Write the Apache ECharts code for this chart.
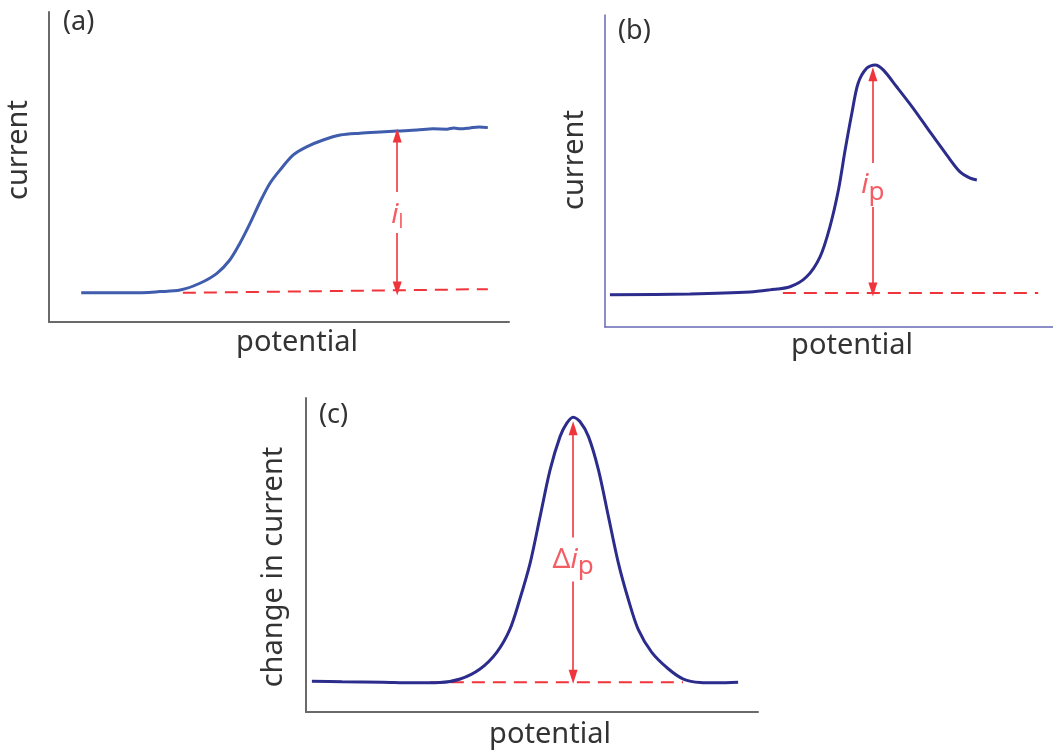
<!DOCTYPE html>
<html>
<head>
<meta charset="utf-8">
<script src="https://cdn.jsdelivr.net/npm/echarts@6/dist/echarts.min.js"></script>
<style>
  html, body { margin: 0; padding: 0; background: #fff; }
  #chart { width: 1053px; height: 750px; }
</style>
</head>
<body>
<div id="chart"></div>
<script>
// ---- data (potential / current, arbitrary units 0-100) ----

// (a) sampled-current voltammogram: sigmoid wave
const curveA = [
  [7.0, 9.4], [18.3, 9.4], [24.1, 9.8], [28.5, 10.3], [32.8, 12.5], [36.5, 15.7],
  [39.3, 20.0], [41.5, 25.4], [43.7, 31.8], [45.9, 38.8], [48.0, 44.7], [50.2, 49.0],
  [53.1, 53.9], [56.0, 56.5], [59.6, 58.7], [63.3, 60.3], [67.6, 60.9], [72.0, 61.3],
  [75.7, 61.6], [80.0, 61.9], [83.5, 62.3], [86.5, 62.2], [88.0, 62.6], [89.5, 62.3],
  [91.5, 62.6], [93.5, 62.9], [95.4, 62.7]
];
const baseA = [[29.1, 9.4], [95.4, 10.6]];
const arrowA = { x: 75.7, top: 60.2, gapTop: 41.9, gapBottom: 28.7, bottom: 10.8, label: 34.5 };

// (b) linear sweep voltammogram: peak
const curveB = [
  [1.1, 10.3], [19.0, 10.6], [32.4, 11.2], [36.8, 11.9], [41.3, 12.9], [45.0, 16.1],
  [48.0, 22.5], [50.2, 32.1], [52.1, 43.9], [53.6, 56.7], [55.1, 68.5], [56.5, 78.1],
  [58.4, 82.9], [60.3, 84.0], [62.1, 82.4], [65.1, 77.0], [68.8, 70.1], [72.5, 62.6],
  [76.3, 55.1], [79.2, 49.8], [81.5, 47.7], [83.0, 47.1]
];
const baseB = [[39.7, 10.9], [96.7, 10.9]];
const arrowB = { x: 59.8, top: 81.0, gapTop: 52.6, gapBottom: 38.5, bottom: 12.0, label: 45.4 };

// (c) differential pulse: symmetric peak
const curveC = [
  [1.3, 9.8], [8.0, 9.6], [17.0, 9.5], [23.0, 9.3], [29.6, 9.4], [34.1, 10.5],
  [38.5, 13.7], [42.2, 19.0], [45.1, 26.3], [47.3, 35.9], [49.6, 47.5], [51.8, 62.3],
  [54.0, 77.1], [56.2, 87.7], [57.7, 92.0], [59.1, 93.9], [60.6, 92.5], [62.5, 87.7],
  [64.7, 77.1], [66.9, 62.3], [69.1, 47.5], [71.3, 35.9], [73.5, 26.3], [76.5, 19.0],
  [80.2, 13.7], [83.5, 10.5], [87.2, 9.4], [90.9, 9.3], [95.6, 9.5]
];
const baseC = [[27.4, 9.5], [83.4, 9.5]];
const arrowC = { x: 59.1, top: 90.4, gapTop: 55.6, gapBottom: 41.6, bottom: 11.2, label: 48.4 };

// ---- styles ----
const RED = "#f0343c";
const FONT = "Noto Sans";
const TXT = "#333";

function axes(idx, color, width, xPad, yPad, yGap, xGap) {
  const common = {
    gridIndex: idx, type: "value", min: 0, max: 100,
    axisLine: { show: true, lineStyle: { color: color, width: width } },
    axisTick: { show: false }, axisLabel: { show: false }, splitLine: { show: false },
    nameLocation: "middle",
  };
  return {
    x: Object.assign({}, common, {
      name: "potential", nameGap: xGap,
      nameTextStyle: { fontFamily: FONT, fontSize: 29, color: TXT, padding: xPad },
    }),
    y: Object.assign({}, common, {
      name: idx === 2 ? "change in current" : "current", nameGap: yGap, nameRotate: 90,
      nameTextStyle: { fontFamily: FONT, fontSize: 29, color: TXT, padding: yPad },
    }),
  };
}

const ax = [
  axes(0, "#6a6a6a", 2, [0, 0, 0, 36], [0, 0, 0, 34], 16, 6),
  axes(1, "#6767b4", 1.5, [0, 0, 0, 46], [0, 0, 0, 22], 16, 4),
  axes(2, "#6a6a6a", 2, [0, 0, 0, 36], [0, 24, 0, 0], 18, 8),
];

function curve(idx, data, color) {
  return {
    type: "line", xAxisIndex: idx, yAxisIndex: idx, data: data,
    smooth: 0.3, showSymbol: false, silent: true,
    lineStyle: { color: color, width: 3 },
  };
}

function baseline(idx, data) {
  return {
    type: "line", xAxisIndex: idx, yAxisIndex: idx, data: data,
    showSymbol: false, silent: true,
    lineStyle: { color: RED, width: 2, type: [13, 8] },
  };
}

function arrow(idx, a, rich, text) {
  return {
    type: "scatter", xAxisIndex: idx, yAxisIndex: idx, symbolSize: 0, silent: true,
    data: [[a.x, a.label]],
    label: { show: true, position: "inside", formatter: text, rich: rich },
    markLine: {
      silent: true, animation: false,
      lineStyle: { color: RED, width: 1.6, type: "solid" },
      label: { show: false },
      symbolSize: [9, 14],
      data: [
        [{ coord: [a.x, a.top], symbol: "triangle" }, { coord: [a.x, a.gapTop], symbol: "none" }],
        [{ coord: [a.x, a.gapBottom], symbol: "none" }, { coord: [a.x, a.bottom], symbol: "triangle" }],
      ],
    },
  };
}

const richL = {
  i: { fontFamily: FONT, fontSize: 28, fontStyle: "italic", color: RED },
  s: { fontFamily: FONT, fontSize: 19, color: RED, padding: [16, 0, 0, 0] },
};
const richP = {
  d: { fontFamily: FONT, fontSize: 28, color: RED },
  i: { fontFamily: FONT, fontSize: 28, fontStyle: "italic", color: RED },
  s: { fontFamily: FONT, fontSize: 26, color: RED, padding: [14, 0, 0, 0] },
};

const chart = echarts.init(document.getElementById("chart"));
chart.setOption({
  animation: false,
  backgroundColor: "#fff",
  title: [
    { text: "(a)", left: 58, top: 4, textStyle: { fontFamily: FONT, fontSize: 27, fontWeight: "normal", color: TXT } },
    { text: "(b)", left: 613, top: 13, textStyle: { fontFamily: FONT, fontSize: 27, fontWeight: "normal", color: TXT } },
    { text: "(c)", left: 314, top: 397, textStyle: { fontFamily: FONT, fontSize: 27, fontWeight: "normal", color: TXT } },
  ],
  grid: [
    { left: 49, top: 12, width: 460, height: 310 },
    { left: 605, top: 15, width: 448, height: 312 },
    { left: 306, top: 398, width: 452, height: 315 },
  ],
  xAxis: ax.map(a => a.x),
  yAxis: ax.map(a => a.y),
  series: [
    baseline(0, baseA),
    curve(0, curveA, "#3f5cad"),
    arrow(0, arrowA, richL, "{i|i}{s|l}"),
    baseline(1, baseB),
    curve(1, curveB, "#2c2c8c"),
    arrow(1, arrowB, richP, "{i|i}{s|p}"),
    baseline(2, baseC),
    curve(2, curveC, "#2c2c8c"),
    arrow(2, arrowC, richP, "{d|Δ}{i|i}{s|p}"),
  ],
});
</script>
</body>
</html>
